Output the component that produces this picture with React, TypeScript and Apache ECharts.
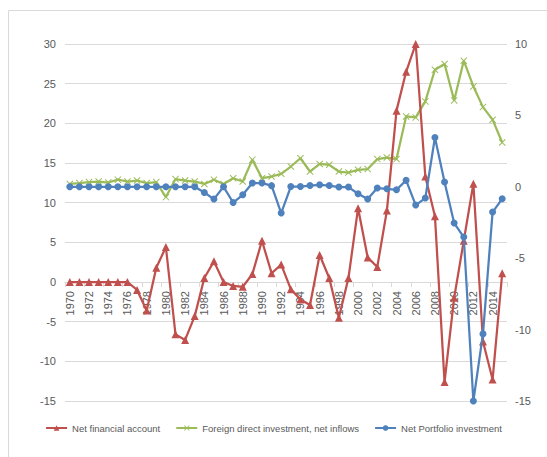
import React, { useEffect, useRef } from "react";
import * as echarts from "echarts";

const years: string[] = [
  "1970", "1971", "1972", "1973", "1974", "1975", "1976", "1977", "1978", "1979",
  "1980", "1981", "1982", "1983", "1984", "1985", "1986", "1987", "1988", "1989",
  "1990", "1991", "1992", "1993", "1994", "1995", "1996", "1997", "1998", "1999",
  "2000", "2001", "2002", "2003", "2004", "2005", "2006", "2007", "2008", "2009",
  "2010", "2011", "2012", "2013", "2014", "2015",
];

// Left axis
const netFinancialAccount: number[] = [
  0, 0, 0, 0, 0, 0, 0, -1.0, -3.6, 1.8,
  4.4, -6.6, -7.3, -4.3, 0.5, 2.6, 0.0, -0.5, -0.6, 1.0,
  5.2, 1.1, 2.2, -0.9, -2.2, -2.9, 3.4, 0.5, -4.5, 0.5,
  9.3, 3.1, 1.9, 9.0, 21.6, 26.5, 30.0, 13.3, 8.3, -12.6,
  -2.0, 5.2, 12.4, -7.5, -12.3, 1.1,
];

// Right axis
const fdiNetInflows: number[] = [
  0.2, 0.26, 0.33, 0.37, 0.3, 0.5, 0.37, 0.44, 0.26, 0.33,
  -0.72, 0.54, 0.44, 0.37, 0.2, 0.5, 0.2, 0.6, 0.37, 1.9,
  0.6, 0.72, 0.91, 1.42, 2.0, 1.07, 1.6, 1.54, 1.07, 1.0,
  1.19, 1.24, 1.94, 2.05, 1.94, 4.93, 4.86, 5.98, 8.2, 8.6,
  6.05, 8.83, 7.03, 5.58, 4.7, 3.1,
];

// Right axis
const netPortfolio: number[] = [
  0, 0, 0, 0, 0, 0, 0, 0, 0, 0,
  0, 0, 0, 0, -0.4, -0.86, 0, -1.1, -0.56, 0.26,
  0.26, 0.08, -1.84, 0.02, 0.02, 0.09, 0.14, 0.09, -0.02, -0.02,
  -0.49, -0.86, -0.09, -0.14, -0.21, 0.45, -1.28, -0.79, 3.45, 0.33,
  -2.54, -3.52, -15, -10.3, -1.77, -0.84,
];

const seriesNames = [
  "Net financial account",
  "Foreign direct investment, net inflows",
  "Net Portfolio investment",
];

const LEFT_MIN = -15;
const LEFT_MAX = 30;
const RIGHT_MIN = -15;
const RIGHT_MAX = 10;

const RED = "#C0504D";
const GREEN = "#9BBB59";
const BLUE = "#4F81BD";
const TEXT = "#595959";
const GRID = "#d9d9d9";
const FONT = "'Liberation Sans', Arial, sans-serif";

const CROSS = "path://M0,1L1,0L5,4L9,0L10,1L6,5L10,9L9,10L5,6L1,10L0,9L4,5Z";

const GRID_TOP = 44;
const GRID_BOTTOM = 56;
const HEIGHT = 457;

export default function App() {
  const ref = useRef<HTMLDivElement>(null);

  useEffect(() => {
    if (!ref.current) return;
    const chart = echarts.init(ref.current, undefined, { renderer: "svg" });

    // The year axis sits on the left axis' zero line, labels hanging below it.
    const plotHeight = HEIGHT - GRID_TOP - GRID_BOTTOM;
    const zeroOffset = -plotHeight * ((0 - LEFT_MIN) / (LEFT_MAX - LEFT_MIN));

    chart.setOption({
      animation: false,
      backgroundColor: "#ffffff",
      graphic: [
        {
          type: "rect",
          silent: true,
          shape: { x: 8.5, y: 10.5, width: 700, height: 700 },
          style: { fill: "none", stroke: GRID, lineWidth: 1 },
        },
      ],
      grid: { left: 65, right: 40, top: GRID_TOP, bottom: GRID_BOTTOM },
      legend: {
        top: 418,
        left: "center",
        itemWidth: 21,
        itemHeight: 7,
        itemGap: 15,
        textStyle: { color: TEXT, fontFamily: FONT, fontSize: 9.5 },
        data: seriesNames,
      },
      xAxis: {
        type: "category",
        data: years,
        boundaryGap: true,
        position: "bottom",
        offset: zeroOffset,
        axisLine: { onZero: false, lineStyle: { color: GRID, width: 1 } },
        axisTick: { show: true, length: 5, lineStyle: { color: GRID } },
        axisLabel: {
          rotate: 90,
          interval: 1,
          color: TEXT,
          fontFamily: FONT,
          fontSize: 11,
          margin: 9,
        },
        splitLine: { show: false },
      },
      yAxis: [
        {
          type: "value",
          min: LEFT_MIN,
          max: LEFT_MAX,
          interval: 5,
          axisLine: { show: false },
          axisTick: { show: false },
          axisLabel: { color: TEXT, fontFamily: FONT, fontSize: 11, margin: 9 },
          splitLine: { lineStyle: { color: GRID, width: 1 } },
        },
        {
          type: "value",
          min: RIGHT_MIN,
          max: RIGHT_MAX,
          interval: 5,
          axisLine: { show: false },
          axisTick: { show: false },
          axisLabel: { color: TEXT, fontFamily: FONT, fontSize: 11, margin: 8 },
          splitLine: { show: false },
        },
      ],
      series: [
        {
          name: seriesNames[0],
          type: "line",
          yAxisIndex: 0,
          data: netFinancialAccount,
          symbol: "triangle",
          symbolSize: 8,
          showSymbol: true,
          showAllSymbol: true,
          lineStyle: { color: RED, width: 2.25 },
          itemStyle: { color: RED },
          z: 3,
        },
        {
          name: seriesNames[1],
          type: "line",
          yAxisIndex: 1,
          data: fdiNetInflows,
          symbol: CROSS,
          symbolSize: 7,
          showSymbol: true,
          showAllSymbol: true,
          lineStyle: { color: GREEN, width: 2.25 },
          itemStyle: { color: GREEN },
          z: 2,
        },
        {
          name: seriesNames[2],
          type: "line",
          yAxisIndex: 1,
          data: netPortfolio,
          symbol: "circle",
          symbolSize: 7,
          showSymbol: true,
          showAllSymbol: true,
          lineStyle: { color: BLUE, width: 2.25 },
          itemStyle: { color: BLUE },
          z: 4,
        },
      ],
    });
    return () => chart.dispose();
  }, []);

  return (
    <div
      ref={ref}
      style={{ position: "fixed", left: 0, top: 0, width: 547, height: 457 }}
    />
  );
}
